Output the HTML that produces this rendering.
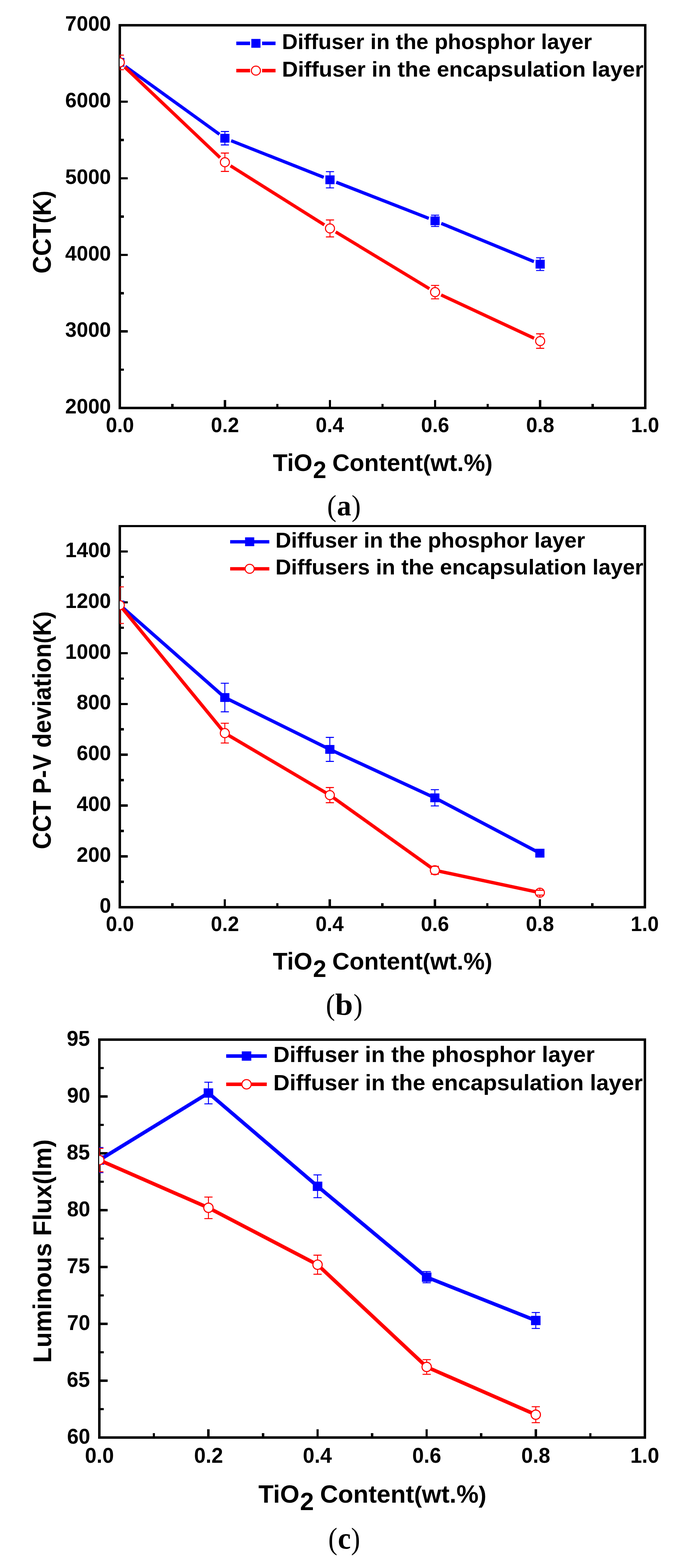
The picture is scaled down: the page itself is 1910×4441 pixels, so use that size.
<!DOCTYPE html>
<html lang="en">
<head>
<meta charset="utf-8">
<title>Figure</title>
<style>
html,body{margin:0;padding:0;background:#fff;}
body{width:1910px;height:4441px;}
svg{display:block;}
text{fill:#000;white-space:pre;}
.tl{font-family:"Liberation Sans",Arial,Helvetica,sans-serif;font-weight:bold;}
.cap{font-family:"Liberation Serif","Times New Roman",serif;}
.capb{font-family:"Liberation Serif","Times New Roman",serif;font-weight:bold;}
</style>
</head>
<body>
<svg width="1910" height="4441" viewBox="0 0 1910 4441">
<rect width="1910" height="4441" fill="#fff"/>
<g id="chart-a">
<clipPath id="clip-a"><rect x="339" y="71.4" width="1489.5" height="1084.1"/></clipPath>
<path d="M488.4 1155.5V1143.7M637.3 1155.5V1133.1M786.2 1155.5V1143.7M935.1 1155.5V1133.1M1084 1155.5V1143.7M1232.9 1155.5V1133.1M1381.8 1155.5V1143.7M1530.7 1155.5V1133.1M1679.6 1155.5V1143.7M339.5 938.68H361.9M339.5 721.86H361.9M339.5 505.04H361.9M339.5 288.22H361.9M339.5 1047.09H351.3M339.5 830.27H351.3M339.5 613.45H351.3M339.5 396.63H351.3M339.5 179.81H351.3" fill="none" stroke="#000" stroke-width="6.5" shape-rendering="crispEdges"/>
<rect x="339.5" y="71.4" width="1489" height="1084.1" fill="none" stroke="#000" stroke-width="6.9" shape-rendering="crispEdges"/>
<g clip-path="url(#clip-a)">
<path d="M354.91 187.72L621.89 380.38M654.97 398.48L917.43 502.22M952.8 516.11L1215.2 618.49M1250.47 632.64L1513.13 740.96" fill="none" stroke="#0000ff" stroke-width="9.2"/>
<rect x="326.5" y="164.1" width="26" height="25" fill="#0000ff"/>
<rect x="624.3" y="379" width="26" height="25" fill="#0000ff"/>
<rect x="922.1" y="496.7" width="26" height="25" fill="#0000ff"/>
<rect x="1219.9" y="612.9" width="26" height="25" fill="#0000ff"/>
<rect x="1517.7" y="735.7" width="26" height="25" fill="#0000ff"/>

<path d="M637.3 372.5V379M637.3 404V410.5" fill="none" stroke="#0000ff" stroke-width="2.7"/><path d="M625.8 372.5H648.8M625.8 410.5H648.8" fill="none" stroke="#0000ff" stroke-width="2.8"/>
<path d="M935.1 486.2V496.7M935.1 521.7V532.2" fill="none" stroke="#0000ff" stroke-width="2.7"/><path d="M923.6 486.2H946.6M923.6 532.2H946.6" fill="none" stroke="#0000ff" stroke-width="2.8"/>
<path d="M1232.9 609.4V612.9M1232.9 637.9V641.4" fill="none" stroke="#0000ff" stroke-width="2.7"/><path d="M1221.4 609.4H1244.4M1221.4 641.4H1244.4" fill="none" stroke="#0000ff" stroke-width="2.8"/>
<path d="M1530.7 730.2V735.7M1530.7 760.7V766.2" fill="none" stroke="#0000ff" stroke-width="2.7"/><path d="M1519.2 730.2H1542.2M1519.2 766.2H1542.2" fill="none" stroke="#0000ff" stroke-width="2.8"/>
<path d="M353.28 189.88L623.52 446.42M653.38 469.62L919.02 636.88M951.35 656.84L1216.65 817.56M1250.13 835.42L1513.47 957.98" fill="none" stroke="#ff0000" stroke-width="9.2"/>
<circle cx="339.5" cy="176.8" r="12.8" fill="#fff" stroke="#ff0000" stroke-width="3"/>
<circle cx="637.3" cy="459.5" r="12.8" fill="#fff" stroke="#ff0000" stroke-width="3"/>
<circle cx="935.1" cy="647" r="12.8" fill="#fff" stroke="#ff0000" stroke-width="3"/>
<circle cx="1232.9" cy="827.4" r="12.8" fill="#fff" stroke="#ff0000" stroke-width="3"/>
<circle cx="1530.7" cy="966" r="12.8" fill="#fff" stroke="#ff0000" stroke-width="3"/>
<path d="M339.5 156.2V164M339.5 189.6V197.4" fill="none" stroke="#ff0000" stroke-width="2.7"/><path d="M328 156.2H351M328 197.4H351" fill="none" stroke="#ff0000" stroke-width="2.8"/>
<path d="M637.3 433.5V446.7M637.3 472.3V485.5" fill="none" stroke="#ff0000" stroke-width="2.7"/><path d="M625.8 433.5H648.8M625.8 485.5H648.8" fill="none" stroke="#ff0000" stroke-width="2.8"/>
<path d="M935.1 623V634.2M935.1 659.8V671" fill="none" stroke="#ff0000" stroke-width="2.7"/><path d="M923.6 623H946.6M923.6 671H946.6" fill="none" stroke="#ff0000" stroke-width="2.8"/>
<path d="M1232.9 808.4V814.6M1232.9 840.2V846.4" fill="none" stroke="#ff0000" stroke-width="2.7"/><path d="M1221.4 808.4H1244.4M1221.4 846.4H1244.4" fill="none" stroke="#ff0000" stroke-width="2.8"/>
<path d="M1530.7 945.5V953.2M1530.7 978.8V986.5" fill="none" stroke="#ff0000" stroke-width="2.7"/><path d="M1519.2 945.5H1542.2M1519.2 986.5H1542.2" fill="none" stroke="#ff0000" stroke-width="2.8"/>
</g>
<path d="M669.6 122.8H708.7M742.7 122.8H780.8" fill="none" stroke="#0000ff" stroke-width="10"/>
<rect x="712.2" y="110.3" width="26" height="25" fill="#0000ff"/>
<path d="M669.6 200H708.7M742.7 200H780.8" fill="none" stroke="#ff0000" stroke-width="10"/>
<circle cx="725.2" cy="200" r="12.8" fill="#fff" stroke="#ff0000" stroke-width="3"/>
<text class="tl" style="font-size:62px" transform="translate(798.96 138.6) scale(0.9966 1.0000)">Diffuser in the phosphor layer</text>
<text class="tl" style="font-size:62px" transform="translate(798.9 217.2) scale(1.0117 1.0000)">Diffuser in the encapsulation layer</text>
<text class="tl" style="font-size:58.7px" transform="translate(184.85 1171.2) scale(0.9930 1.0000)">2000</text>
<text class="tl" style="font-size:58.7px" transform="translate(184.85 954.38) scale(0.9930 1.0000)">3000</text>
<text class="tl" style="font-size:58.7px" transform="translate(184.85 737.56) scale(0.9930 1.0000)">4000</text>
<text class="tl" style="font-size:58.7px" transform="translate(184.85 520.74) scale(0.9930 1.0000)">5000</text>
<text class="tl" style="font-size:58.7px" transform="translate(184.85 303.92) scale(0.9930 1.0000)">6000</text>
<text class="tl" style="font-size:58.7px" transform="translate(184.85 87.1) scale(0.9930 1.0000)">7000</text>
<text class="tl" style="font-size:58.7px" transform="translate(299.99 1223.9) scale(0.9770 1.0000)">0.0</text>
<text class="tl" style="font-size:58.7px" transform="translate(597.79 1223.9) scale(0.9770 1.0000)">0.2</text>
<text class="tl" style="font-size:58.7px" transform="translate(894.61 1223.9) scale(0.9770 1.0000)">0.4</text>
<text class="tl" style="font-size:58.7px" transform="translate(1193.27 1223.9) scale(0.9770 1.0000)">0.6</text>
<text class="tl" style="font-size:58.7px" transform="translate(1490.94 1223.9) scale(0.9770 1.0000)">0.8</text>
<text class="tl" style="font-size:58.7px" transform="translate(1788.25 1223.9) scale(0.9770 1.0000)">1.0</text>
<text class="tl" style="font-size:72.8px" transform="translate(144.1 774.64) rotate(-90) scale(0.9480 1.0000)">CCT<tspan style="font-size:68.43px">(</tspan>K<tspan style="font-size:68.43px">)</tspan></text>
<text class="tl" style="font-size:68.6px" transform="translate(773.36 1333.9) scale(0.9911 1.0000)">TiO<tspan dx="1.71" dy="20">2</tspan><tspan dx="-2.06" dy="-20"> Content<tspan style="font-size:64.48px">(</tspan>wt.%<tspan style="font-size:64.48px">)</tspan></tspan></text>
<text class="cap"><tspan x="926.92" y="1460.77" style="font-size:85.3px" textLength="26.52" lengthAdjust="spacingAndGlyphs">(</tspan><tspan x="954.66" y="1460.07" style="font-weight:bold;font-size:82.71px" textLength="40.55" lengthAdjust="spacingAndGlyphs">a</tspan><tspan x="996.25" y="1460.77" style="font-size:85.3px" textLength="26.13" lengthAdjust="spacingAndGlyphs">)</tspan></text>
</g>
<g id="chart-b">
<clipPath id="clip-b"><rect x="339" y="1490" width="1488.5" height="1079.5"/></clipPath>
<path d="M488.3 2569.5V2557.7M637.1 2569.5V2547.1M785.9 2569.5V2557.7M934.7 2569.5V2547.1M1083.5 2569.5V2557.7M1232.3 2569.5V2547.1M1381.1 2569.5V2557.7M1529.9 2569.5V2547.1M1678.7 2569.5V2557.7M339.5 2425.57H361.9M339.5 2281.63H361.9M339.5 2137.7H361.9M339.5 1993.77H361.9M339.5 1849.83H361.9M339.5 1705.9H361.9M339.5 1561.97H361.9M339.5 2497.53H351.3M339.5 2353.6H351.3M339.5 2209.67H351.3M339.5 2065.73H351.3M339.5 1921.8H351.3M339.5 1777.87H351.3M339.5 1633.93H351.3" fill="none" stroke="#000" stroke-width="6.5" shape-rendering="crispEdges"/>
<rect x="339.5" y="1490" width="1488" height="1079.5" fill="none" stroke="#000" stroke-width="6.9" shape-rendering="crispEdges"/>
<g clip-path="url(#clip-b)">
<polyline points="339.5,1713.5 637.1,1975.6 934.7,2122.5 1232.3,2259.7 1529.9,2416.4" fill="none" stroke="#0000ff" stroke-width="9.5" stroke-linejoin="round"/>
<rect x="326.5" y="1701" width="26" height="25" fill="#0000ff"/>
<rect x="624.1" y="1963.1" width="26" height="25" fill="#0000ff"/>
<rect x="921.7" y="2110" width="26" height="25" fill="#0000ff"/>
<rect x="1219.3" y="2247.2" width="26" height="25" fill="#0000ff"/>
<rect x="1516.9" y="2403.9" width="26" height="25" fill="#0000ff"/>

<path d="M637.1 1935.2V1963.1M637.1 1988.1V2016" fill="none" stroke="#0000ff" stroke-width="2.7"/><path d="M625.6 1935.2H648.6M625.6 2016H648.6" fill="none" stroke="#0000ff" stroke-width="2.8"/>
<path d="M934.7 2088.5V2110M934.7 2135V2156.5" fill="none" stroke="#0000ff" stroke-width="2.7"/><path d="M923.2 2088.5H946.2M923.2 2156.5H946.2" fill="none" stroke="#0000ff" stroke-width="2.8"/>
<path d="M1232.3 2236.7V2247.2M1232.3 2272.2V2282.7" fill="none" stroke="#0000ff" stroke-width="2.7"/><path d="M1220.8 2236.7H1243.8M1220.8 2282.7H1243.8" fill="none" stroke="#0000ff" stroke-width="2.8"/>

<polyline points="339.5,1714 637.1,2076.4 934.7,2252 1232.3,2464.9 1529.9,2528.3" fill="none" stroke="#ff0000" stroke-width="9.5" stroke-linejoin="round"/>
<circle cx="339.5" cy="1714" r="12.8" fill="#fff" stroke="#ff0000" stroke-width="3"/>
<circle cx="637.1" cy="2076.4" r="12.8" fill="#fff" stroke="#ff0000" stroke-width="3"/>
<circle cx="934.7" cy="2252" r="12.8" fill="#fff" stroke="#ff0000" stroke-width="3"/>
<circle cx="1232.3" cy="2464.9" r="12.8" fill="#fff" stroke="#ff0000" stroke-width="3"/>
<circle cx="1529.9" cy="2528.3" r="12.8" fill="#fff" stroke="#ff0000" stroke-width="3"/>
<path d="M339.5 1662.2V1701.2M339.5 1726.8V1765.8" fill="none" stroke="#ff0000" stroke-width="2.7"/><path d="M328 1662.2H351M328 1765.8H351" fill="none" stroke="#ff0000" stroke-width="2.8"/>
<path d="M637.1 2048.4V2063.6M637.1 2089.2V2104.4" fill="none" stroke="#ff0000" stroke-width="2.7"/><path d="M625.6 2048.4H648.6M625.6 2104.4H648.6" fill="none" stroke="#ff0000" stroke-width="2.8"/>
<path d="M934.7 2230.5V2239.2M934.7 2264.8V2273.5" fill="none" stroke="#ff0000" stroke-width="2.7"/><path d="M923.2 2230.5H946.2M923.2 2273.5H946.2" fill="none" stroke="#ff0000" stroke-width="2.8"/>
<path d="M1232.3 2453.6V2452.1M1232.3 2477.7V2476.2" fill="none" stroke="#ff0000" stroke-width="2.7"/><path d="M1220.8 2453.6H1243.8M1220.8 2476.2H1243.8" fill="none" stroke="#ff0000" stroke-width="2.8"/>
<path d="M1529.9 2521.5V2515.5M1529.9 2541.1V2535.1" fill="none" stroke="#ff0000" stroke-width="2.7"/><path d="M1518.4 2521.5H1541.4M1518.4 2535.1H1541.4" fill="none" stroke="#ff0000" stroke-width="2.8"/>
</g>
<path d="M652.2 1534.4H763.2" fill="none" stroke="#0000ff" stroke-width="9.5"/>
<rect x="694.5" y="1521.9" width="26" height="25" fill="#0000ff"/>
<path d="M652.2 1611H763.2" fill="none" stroke="#ff0000" stroke-width="9.5"/>
<circle cx="707.5" cy="1611" r="12.8" fill="#fff" stroke="#ff0000" stroke-width="3"/>
<text class="tl" style="font-size:62px" transform="translate(780.47 1550.8) scale(0.9953 1.0000)">Diffuser in the phosphor layer</text>
<text class="tl" style="font-size:62px" transform="translate(780.47 1627.2) scale(0.9955 1.0000)">Diffusers in the encapsulation layer</text>
<text class="tl" style="font-size:58.7px" transform="translate(282.16 2585.2) scale(0.9930 1.0000)">0</text>
<text class="tl" style="font-size:58.7px" transform="translate(217.37 2441.27) scale(0.9930 1.0000)">200</text>
<text class="tl" style="font-size:58.7px" transform="translate(217.37 2297.33) scale(0.9930 1.0000)">400</text>
<text class="tl" style="font-size:58.7px" transform="translate(217.37 2153.4) scale(0.9930 1.0000)">600</text>
<text class="tl" style="font-size:58.7px" transform="translate(217.37 2009.47) scale(0.9930 1.0000)">800</text>
<text class="tl" style="font-size:58.7px" transform="translate(184.85 1865.53) scale(0.9930 1.0000)">1000</text>
<text class="tl" style="font-size:58.7px" transform="translate(184.85 1721.6) scale(0.9930 1.0000)">1200</text>
<text class="tl" style="font-size:58.7px" transform="translate(184.85 1577.67) scale(0.9930 1.0000)">1400</text>
<text class="tl" style="font-size:58.7px" transform="translate(299.99 2637.3) scale(0.9770 1.0000)">0.0</text>
<text class="tl" style="font-size:58.7px" transform="translate(597.59 2637.3) scale(0.9770 1.0000)">0.2</text>
<text class="tl" style="font-size:58.7px" transform="translate(894.21 2637.3) scale(0.9770 1.0000)">0.4</text>
<text class="tl" style="font-size:58.7px" transform="translate(1192.67 2637.3) scale(0.9770 1.0000)">0.6</text>
<text class="tl" style="font-size:58.7px" transform="translate(1490.14 2637.3) scale(0.9770 1.0000)">0.8</text>
<text class="tl" style="font-size:58.7px" transform="translate(1787.25 2637.3) scale(0.9770 1.0000)">1.0</text>
<text class="tl" style="font-size:71.6px" transform="translate(143.9 2405.32) rotate(-90) scale(0.9394 1.0000)">CCT P-V deviation<tspan style="font-size:67.3px">(</tspan>K<tspan style="font-size:67.3px">)</tspan></text>
<text class="tl" style="font-size:68.4px" transform="translate(773.36 2746.1) scale(0.9926 1.0000)">TiO<tspan dx="1.71" dy="20.5">2</tspan><tspan dx="-2.05" dy="-20.5"> Content<tspan style="font-size:64.3px">(</tspan>wt.%<tspan style="font-size:64.3px">)</tspan></tspan></text>
<text class="cap"><tspan x="923.39" y="2874.05" style="font-size:85.41px" textLength="26" lengthAdjust="spacingAndGlyphs">(</tspan><tspan x="949.77" y="2873.63" style="font-weight:bold;font-size:87.38px" textLength="50.37" lengthAdjust="spacingAndGlyphs">b</tspan><tspan x="1001.7" y="2874.05" style="font-size:85.41px" textLength="25.62" lengthAdjust="spacingAndGlyphs">)</tspan></text>
</g>
<g id="chart-c">
<clipPath id="clip-c"><rect x="281" y="2944.6" width="1546.5" height="1126.9"/></clipPath>
<path d="M436.1 4071.5V4059.25M590.7 4071.5V4048.25M745.3 4071.5V4059.25M899.9 4071.5V4048.25M1054.5 4071.5V4059.25M1209.1 4071.5V4048.25M1363.7 4071.5V4059.25M1518.3 4071.5V4048.25M1672.9 4071.5V4059.25M281.5 3910.51H304.75M281.5 3749.53H304.75M281.5 3588.54H304.75M281.5 3427.56H304.75M281.5 3266.57H304.75M281.5 3105.59H304.75M281.5 3991.01H293.75M281.5 3830.02H293.75M281.5 3669.04H293.75M281.5 3508.05H293.75M281.5 3347.06H293.75M281.5 3186.08H293.75M281.5 3025.09H293.75" fill="none" stroke="#000" stroke-width="6.5" shape-rendering="crispEdges"/>
<rect x="281.5" y="2944.6" width="1546" height="1126.9" fill="none" stroke="#000" stroke-width="6.9" shape-rendering="crispEdges"/>
<g clip-path="url(#clip-c)">
<polyline points="281.5,3285.6 590.7,3095.7 899.9,3359.9 1209.1,3617.3 1518.3,3740" fill="none" stroke="#0000ff" stroke-width="10.3" stroke-linejoin="round"/>
<rect x="268" y="3272.4" width="27" height="26.4" fill="#0000ff"/>
<rect x="577.2" y="3082.5" width="27" height="26.4" fill="#0000ff"/>
<rect x="886.4" y="3346.7" width="27" height="26.4" fill="#0000ff"/>
<rect x="1195.6" y="3604.1" width="27" height="26.4" fill="#0000ff"/>
<rect x="1504.8" y="3726.8" width="27" height="26.4" fill="#0000ff"/>
<path d="M281.5 3250.1V3272.4M281.5 3298.8V3321.1" fill="none" stroke="#0000ff" stroke-width="2.7"/><path d="M269.9 3250.1H293.1M269.9 3321.1H293.1" fill="none" stroke="#0000ff" stroke-width="2.8"/>
<path d="M590.7 3065.1V3082.5M590.7 3108.9V3126.3" fill="none" stroke="#0000ff" stroke-width="2.7"/><path d="M579.1 3065.1H602.3M579.1 3126.3H602.3" fill="none" stroke="#0000ff" stroke-width="2.8"/>
<path d="M899.9 3327.7V3346.7M899.9 3373.1V3392.1" fill="none" stroke="#0000ff" stroke-width="2.7"/><path d="M888.3 3327.7H911.5M888.3 3392.1H911.5" fill="none" stroke="#0000ff" stroke-width="2.8"/>
<path d="M1209.1 3601.4V3604.1M1209.1 3630.5V3633.2" fill="none" stroke="#0000ff" stroke-width="2.7"/><path d="M1197.5 3601.4H1220.7M1197.5 3633.2H1220.7" fill="none" stroke="#0000ff" stroke-width="2.8"/>
<path d="M1518.3 3717.4V3726.8M1518.3 3753.2V3762.6" fill="none" stroke="#0000ff" stroke-width="2.7"/><path d="M1506.7 3717.4H1529.9M1506.7 3762.6H1529.9" fill="none" stroke="#0000ff" stroke-width="2.8"/>
<polyline points="281.5,3285.6 590.7,3420.8 899.9,3582 1209.1,3871.6 1518.3,4006.8" fill="none" stroke="#ff0000" stroke-width="10.3" stroke-linejoin="round"/>
<circle cx="281.5" cy="3285.6" r="13.2" fill="#fff" stroke="#ff0000" stroke-width="3.1"/>
<circle cx="590.7" cy="3420.8" r="13.2" fill="#fff" stroke="#ff0000" stroke-width="3.1"/>
<circle cx="899.9" cy="3582" r="13.2" fill="#fff" stroke="#ff0000" stroke-width="3.1"/>
<circle cx="1209.1" cy="3871.6" r="13.2" fill="#fff" stroke="#ff0000" stroke-width="3.1"/>
<circle cx="1518.3" cy="4006.8" r="13.2" fill="#fff" stroke="#ff0000" stroke-width="3.1"/>
<path d="M281.5 3252.3V3272.4M281.5 3298.8V3318.9" fill="none" stroke="#ff0000" stroke-width="2.7"/><path d="M269.9 3252.3H293.1M269.9 3318.9H293.1" fill="none" stroke="#ff0000" stroke-width="2.8"/>
<path d="M590.7 3390.3V3407.6M590.7 3434V3451.3" fill="none" stroke="#ff0000" stroke-width="2.7"/><path d="M579.1 3390.3H602.3M579.1 3451.3H602.3" fill="none" stroke="#ff0000" stroke-width="2.8"/>
<path d="M899.9 3555V3568.8M899.9 3595.2V3609" fill="none" stroke="#ff0000" stroke-width="2.7"/><path d="M888.3 3555H911.5M888.3 3609H911.5" fill="none" stroke="#ff0000" stroke-width="2.8"/>
<path d="M1209.1 3850.9V3858.4M1209.1 3884.8V3892.3" fill="none" stroke="#ff0000" stroke-width="2.7"/><path d="M1197.5 3850.9H1220.7M1197.5 3892.3H1220.7" fill="none" stroke="#ff0000" stroke-width="2.8"/>
<path d="M1518.3 3984.2V3993.6M1518.3 4020V4029.4" fill="none" stroke="#ff0000" stroke-width="2.7"/><path d="M1506.7 3984.2H1529.9M1506.7 4029.4H1529.9" fill="none" stroke="#ff0000" stroke-width="2.8"/>
</g>
<path d="M641 2991H756" fill="none" stroke="#0000ff" stroke-width="10"/>
<rect x="685.1" y="2977.8" width="27" height="26.4" fill="#0000ff"/>
<path d="M641 3071H756" fill="none" stroke="#ff0000" stroke-width="10"/>
<circle cx="698.6" cy="3071" r="13.2" fill="#fff" stroke="#ff0000" stroke-width="3.1"/>
<text class="tl" style="font-size:63.8px" transform="translate(774.43 3008.2) scale(1.0037 1.0000)">Diffuser in the phosphor layer</text>
<text class="tl" style="font-size:63.8px" transform="translate(774.43 3087.8) scale(1.0049 1.0000)">Diffuser in the encapsulation layer</text>
<text class="tl" style="font-size:60.9px" transform="translate(189.97 4088.5) scale(0.9690 1.0000)">60</text>
<text class="tl" style="font-size:60.9px" transform="translate(189.25 3927.51) scale(0.9690 1.0000)">65</text>
<text class="tl" style="font-size:60.9px" transform="translate(189.97 3766.53) scale(0.9690 1.0000)">70</text>
<text class="tl" style="font-size:60.9px" transform="translate(189.25 3605.54) scale(0.9690 1.0000)">75</text>
<text class="tl" style="font-size:60.9px" transform="translate(189.97 3444.56) scale(0.9690 1.0000)">80</text>
<text class="tl" style="font-size:60.9px" transform="translate(189.25 3283.57) scale(0.9690 1.0000)">85</text>
<text class="tl" style="font-size:60.9px" transform="translate(189.97 3122.59) scale(0.9690 1.0000)">90</text>
<text class="tl" style="font-size:60.9px" transform="translate(189.25 2961.6) scale(0.9690 1.0000)">95</text>
<text class="tl" style="font-size:60.9px" transform="translate(240.74 4143.3) scale(0.9690 1.0000)">0.0</text>
<text class="tl" style="font-size:60.9px" transform="translate(549.94 4143.3) scale(0.9690 1.0000)">0.2</text>
<text class="tl" style="font-size:60.9px" transform="translate(858.17 4143.3) scale(0.9690 1.0000)">0.4</text>
<text class="tl" style="font-size:60.9px" transform="translate(1168.22 4143.3) scale(0.9690 1.0000)">0.6</text>
<text class="tl" style="font-size:60.9px" transform="translate(1477.3 4143.3) scale(0.9690 1.0000)">0.8</text>
<text class="tl" style="font-size:60.9px" transform="translate(1786.13 4143.3) scale(0.9690 1.0000)">1.0</text>
<text class="tl" style="font-size:72.6px" transform="translate(144.8 3859.95) rotate(-90) scale(0.9791 1.0000)">Luminous Flux<tspan style="font-size:68.24px">(</tspan>lm<tspan style="font-size:68.24px">)</tspan></text>
<text class="tl" style="font-size:71.2px" transform="translate(732.26 4255.8) scale(0.9909 1.0000)">TiO<tspan dx="1.78" dy="21.5">2</tspan><tspan dx="-2.14" dy="-21.5"> Content<tspan style="font-size:66.93px">(</tspan>wt.%<tspan style="font-size:66.93px">)</tspan></tspan></text>
<text class="cap"><tspan x="930.31" y="4386.69" style="font-size:86.19px" textLength="25.87" lengthAdjust="spacingAndGlyphs">(</tspan><tspan x="957.61" y="4386.24" style="font-weight:bold;font-size:86.01px" textLength="36.67" lengthAdjust="spacingAndGlyphs">c</tspan><tspan x="994.79" y="4386.69" style="font-size:86.19px" textLength="25.74" lengthAdjust="spacingAndGlyphs">)</tspan></text>
</g>
</svg>
</body>
</html>
